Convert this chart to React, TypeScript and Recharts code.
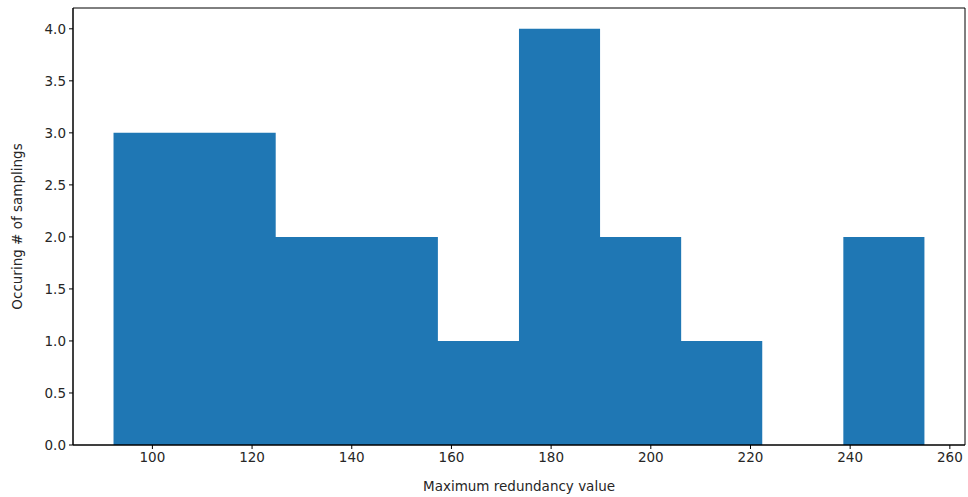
import { ComposedChart, Area, XAxis, YAxis, ReferenceArea } from 'recharts'

// histogram bin edges (11) and counts (10)
const binEdges = [92.2, 108.47, 124.74, 141.01, 157.28, 173.55, 189.82, 206.09, 222.36, 238.63, 254.9]
const binCounts = [3, 3, 2, 2, 1, 4, 2, 1, 0, 2]
const xTicks = [100, 120, 140, 160, 180, 200, 220, 240, 260]
const yTicks = [0, 0.5, 1, 1.5, 2, 2.5, 3, 3.5, 4]
const xDomain = [84.07, 263.04]
const yDomain = [0, 4.2]

const data = binEdges.map((x, i) => ({
  x,
  count: i < binCounts.length ? binCounts[i] : binCounts[binCounts.length - 1],
}))

const font = 'DejaVu Sans, sans-serif'
const tickStyle = { fill: '#262626', fontSize: 13.5, fontFamily: font }

export default function App() {
  return (
    <div style={{ position: 'absolute', left: 0, top: 0, width: 968, height: 497, background: '#fff' }}>
      <ComposedChart
        width={968}
        height={497}
        data={data}
        margin={{ top: 8, right: 3, bottom: 0, left: 0 }}
      >
        <XAxis
          dataKey="x"
          type="number"
          domain={xDomain}
          ticks={xTicks}
          allowDataOverflow
          height={52}
          tick={tickStyle}
          tickSize={4}
          tickMargin={3}
          stroke="#000"
          tickLine={{ stroke: '#000' }}
          label={{
            value: 'Maximum redundancy value',
            position: 'insideBottom',
            offset: 6,
            style: { fill: '#262626', fontSize: 13.5, fontFamily: font },
          }}
        />
        <YAxis
          type="number"
          domain={yDomain}
          ticks={yTicks}
          allowDataOverflow
          width={73}
          tick={tickStyle}
          tickSize={4}
          tickMargin={3}
          tickFormatter={(v: number) => v.toFixed(1)}
          stroke="#000"
          tickLine={{ stroke: '#000' }}
          label={{
            value: 'Occuring # of samplings',
            angle: -90,
            position: 'insideLeft',
            offset: 17,
            style: { textAnchor: 'middle', fill: '#262626', fontSize: 13.5, fontFamily: font },
          }}
        />
        <Area
          type="stepAfter"
          dataKey="count"
          stroke="none"
          fill="#1f77b4"
          fillOpacity={1}
          isAnimationActive={false}
          dot={false}
          activeDot={false}
        />
        {/* axes frame (matplotlib spines) */}
        <ReferenceArea
          x1={xDomain[0]}
          x2={xDomain[1]}
          y1={yDomain[0]}
          y2={yDomain[1]}
          fill="none"
          stroke="#000"
          strokeWidth={1}
        />
      </ComposedChart>
    </div>
  )
}
